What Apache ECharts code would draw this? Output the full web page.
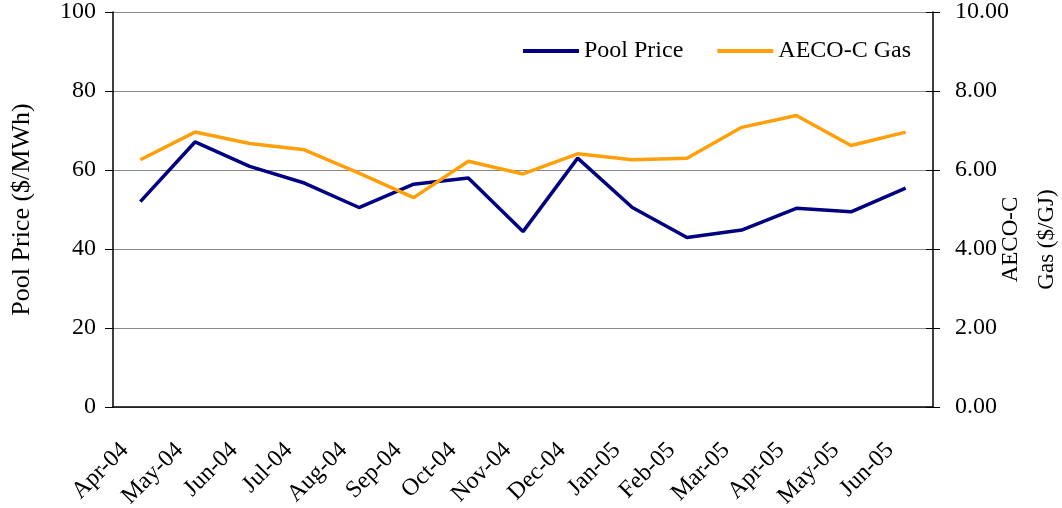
<!DOCTYPE html>
<html style="height: 100%">
<head>
    <meta charset="utf-8">
    <script src="https://cdn.jsdelivr.net/npm/echarts@6/dist/echarts.min.js"></script>
</head>
<body style="height:100%;margin:0;background:#fff">
    <div id="main" style="width:1062px;height:508px;"></div>
    <script type="text/javascript">
        var months = ['Apr-04','May-04','Jun-04','Jul-04','Aug-04','Sep-04','Oct-04','Nov-04',
                      'Dec-04','Jan-05','Feb-05','Mar-05','Apr-05','May-05','Jun-05'];
        var poolPrice = [52.0, 67.1, 60.9, 56.7, 50.5, 56.4, 58.0, 44.4, 63.0, 50.5, 42.9, 44.8, 50.3, 49.4, 55.4];
        var aecoGas = [6.26, 6.96, 6.67, 6.51, 5.92, 5.30, 6.22, 5.90, 6.41, 6.26, 6.30, 7.08, 7.38, 6.62, 6.96];

        var font = '"Liberation Serif", "Times New Roman", serif';
        var myChart = echarts.init(document.getElementById('main'));

        option = {
            animation: false,
            textStyle: { fontFamily: font, color: '#000' },
            legend: {
                left: 518,
                top: 34,
                itemWidth: 56,
                itemHeight: 4,
                itemGap: 34,
                icon: 'rect',
                textStyle: { fontFamily: font, fontSize: 24, color: '#000' },
                data: ['Pool Price', 'AECO-C Gas']
            },
            grid: { left: 113, right: 129, top: 12, bottom: 101, outerBoundsMode: 'none', containLabel: false },
            xAxis: {
                type: 'category',
                data: months,
                boundaryGap: true,
                axisLine: { lineStyle: { color: '#000', width: 1.5 } },
                axisTick: { length: 7, lineStyle: { color: '#000' } },
                axisLabel: {
                    rotate: 45, fontSize: 24, color: '#000', fontFamily: font,
                    margin: 24, interval: 0, padding: [0, 22, 0, 0]
                }
            },
            yAxis: [
                {
                    type: 'value',
                    min: 0, max: 100, interval: 20,
                    name: 'Pool Price ($/MWh)',
                    nameLocation: 'middle',
                    nameGap: 78,
                    nameMoveOverlap: false,
                    nameTextStyle: { fontSize: 26, color: '#000', fontFamily: font },
                    axisLine: { show: true, lineStyle: { color: '#000', width: 1.5 } },
                    axisTick: { show: true, length: 8, lineStyle: { color: '#000' } },
                    axisLabel: { fontSize: 24, color: '#000', fontFamily: font, margin: 17 },
                    splitLine: { lineStyle: { color: '#888', width: 1 } }
                },
                {
                    type: 'value',
                    min: 0, max: 10, interval: 2,
                    name: 'AECO-C\nGas ($/GJ)',
                    nameLocation: 'middle',
                    nameGap: 60,
                    nameMoveOverlap: false,
                    nameRotate: 90,
                    nameTextStyle: { fontSize: 23, color: '#000', fontFamily: font, lineHeight: 36, align: 'center', padding: [0, 60, 0, 0] },
                    axisLine: { show: true, lineStyle: { color: '#000', width: 1.5 } },
                    axisTick: { show: true, length: 7, lineStyle: { color: '#000' } },
                    axisLabel: {
                        fontSize: 24, color: '#000', fontFamily: font, margin: 22,
                        formatter: function (v) { return v.toFixed(2); }
                    },
                    splitLine: { show: false }
                },
                {
                    // inner half of the crossing ticks on the right axis
                    type: 'value',
                    position: 'right',
                    min: 0, max: 10, interval: 2,
                    axisLine: { show: false },
                    axisTick: { show: true, inside: true, length: 7, lineStyle: { color: '#000' } },
                    axisLabel: { show: false },
                    splitLine: { show: false }
                }
            ],
            series: [
                {
                    name: 'Pool Price',
                    type: 'line',
                    yAxisIndex: 0,
                    data: poolPrice,
                    symbol: 'none',
                    color: '#000080',
                    lineStyle: { color: '#000080', width: 3.5 }
                },
                {
                    name: 'AECO-C Gas',
                    type: 'line',
                    yAxisIndex: 1,
                    data: aecoGas,
                    symbol: 'none',
                    color: '#FFA00A',
                    lineStyle: { color: '#FFA00A', width: 3.5 }
                }
            ]
        };
        myChart.setOption(option);
    </script>
</body>
</html>
